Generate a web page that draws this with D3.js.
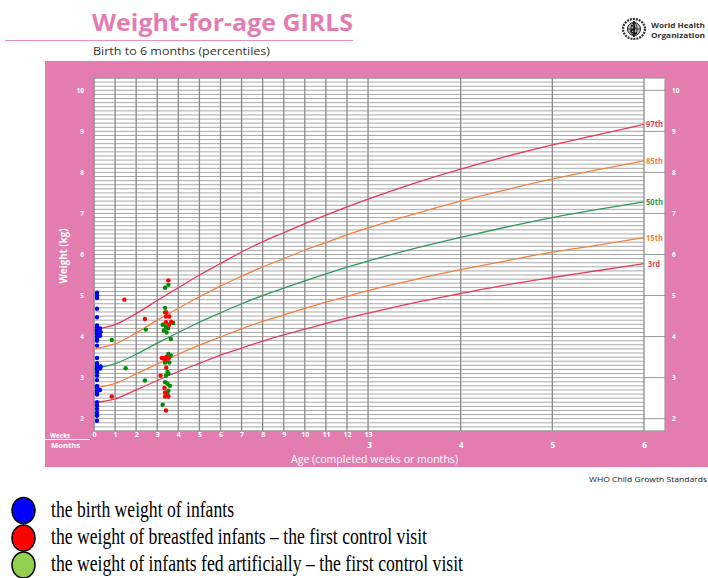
<!DOCTYPE html>
<html>
<head>
<meta charset="utf-8">
<script src="https://cdn.jsdelivr.net/npm/d3@7"></script>
<style>
  body { margin: 0; background: #fff; }
  svg { display: block; }
</style>
</head>
<body>
<div id="main"></div>
<script>

/// Data ///

// ages (days) of the reference curve points: weeks 0-13, then half months up to 6 months
const ageDays = [0, 7, 14, 21, 28, 35, 42, 49, 56, 63, 70, 77, 84, 91, 106.5, 121.75, 137, 152.2, 167.4, 182.6];

// percentile curves (kg)
const p97 = [4.17, 4.29, 4.56, 4.88, 5.19, 5.50, 5.78, 6.06, 6.31, 6.53, 6.75, 6.96, 7.16, 7.35, 7.74, 8.08, 8.39, 8.67, 8.92, 9.17];
const p85 = [3.70, 3.82, 4.09, 4.40, 4.69, 4.97, 5.23, 5.47, 5.70, 5.90, 6.11, 6.29, 6.48, 6.65, 6.99, 7.30, 7.58, 7.84, 8.07, 8.28];
const p50 = [3.22, 3.34, 3.57, 3.84, 4.10, 4.35, 4.58, 4.80, 5.00, 5.18, 5.36, 5.53, 5.69, 5.84, 6.15, 6.42, 6.67, 6.90, 7.10, 7.28];
const p15 = [2.75, 2.86, 3.09, 3.33, 3.57, 3.79, 3.99, 4.19, 4.37, 4.53, 4.69, 4.84, 4.98, 5.12, 5.39, 5.63, 5.85, 6.06, 6.23, 6.41];
const p3  = [2.39, 2.48, 2.70, 2.93, 3.15, 3.35, 3.55, 3.72, 3.89, 4.04, 4.18, 4.32, 4.45, 4.57, 4.83, 5.05, 5.26, 5.44, 5.61, 5.78];

const curveNames = ['97th', '85th', '50th', '15th', '3rd'];
const curveValues = [p97, p85, p50, p15, p3];

// birth weights (kg) and the day they were plotted at
const birthWeights = [5.07, 5.00, 4.94, 4.68, 4.47, 4.27, 4.23, 4.16, 4.13, 4.09, 4.05, 4.00, 3.94, 3.90, 3.78,
                      3.48, 3.35, 3.29, 3.24, 3.19, 3.13, 3.05, 2.94, 2.80, 2.76, 2.68, 2.63, 2.59,
                      2.40, 2.32, 2.24, 2.15, 2.07, 1.95, 4.20, 4.11, 4.02, 3.22, 3.27, 2.70];
const birthAges    = [1, 1, 1, 1, 1, 1, 1, 1, 1, 1, 1, 1, 1, 1, 1,
                      1, 1, 1, 1, 1, 1, 1, 1, 1, 1, 1, 1, 1,
                      1, 1, 1, 1, 1, 1, 2, 2.2, 2, 2, 2.2, 2];

// breastfed infants, first control visit [age in days, kg]
const breastfed = [[10.1, 4.90], [16.9, 4.43], [5.9, 2.54],
                   [24.7, 5.37], [24.0, 4.59], [23.9, 4.49], [25.0, 4.49], [23.9, 4.35], [25.0, 4.29], [25.6, 4.36],
                   [22.5, 3.48], [23.6, 3.48], [24.1, 3.51], [23.9, 3.43], [24.8, 3.47], [23.2, 3.46],
                   [24.0, 3.24], [22.1, 3.05], [23.4, 2.75], [23.6, 2.64], [23.6, 2.54], [24.7, 2.54], [23.9, 2.20]];

// infants fed artificially, first control visit [age in days, kg]
const formulaFed = [[17.2, 4.17], [5.9, 3.92], [10.5, 3.23], [16.9, 2.93],
                    [24.7, 5.26], [23.6, 5.19], [23.6, 4.70], [23.6, 4.59], [26.3, 4.33], [22.8, 4.29], [23.9, 4.24],
                    [24.6, 4.20], [23.2, 4.15], [24.1, 4.10], [25.5, 3.94],
                    [24.7, 3.58], [25.5, 3.54], [25.0, 3.37], [23.6, 3.37], [24.7, 3.10], [23.9, 3.05], [24.4, 3.14],
                    [23.6, 2.89], [24.4, 2.85], [25.2, 2.80], [24.7, 2.68], [24.4, 2.59], [22.8, 2.34]];

// tick labels
const weekLabels = [0, 1, 2, 3, 4, 5, 6, 7, 8, 9, 10, 11, 12, 13];
const monthLabels = [3, 4, 5, 6];
const weightTicks = [2, 3, 4, 5, 6, 7, 8, 9, 10];

const legendLabels = ['the birth weight of infants',
                      'the weight of breastfed infants \u2013 the first control visit',
                      'the weight of infants fed artificially \u2013 the first control visit'];

/// Layout ///

const w = 708;
const h = 578;
const DAYS_WEEK = 7;
const DAYS_MONTH = 30.4375;

const pink = '#e47daf';
const sans = '"Open Sans", "DejaVu Sans", sans-serif';

const svg = d3.select('#main')
            .append('svg')
            .attr('width', w)
            .attr('height', h);

const x = d3.scaleLinear()
            .domain([0, 6 * DAYS_MONTH])
            .range([94, 644]);

const y = d3.scaleLinear()
            .domain([1.7, 10.3])
            .range([431, 78]);

const plotRight = 665;   // white label column runs past 6 months

/// Header ///

svg.append('text')
    .attr('x', 92).attr('y', 31)
    .attr('font-family', sans).attr('font-weight', 'bold').attr('font-size', 23)
    .attr('textLength', 261).attr('lengthAdjust', 'spacingAndGlyphs')
    .attr('fill', pink)
    .text('Weight-for-age GIRLS');

svg.append('line')
    .attr('x1', 5).attr('x2', 353).attr('y1', 40.5).attr('y2', 40.5)
    .attr('stroke', '#e98fbb').attr('stroke-width', 1.2);

svg.append('text')
    .attr('x', 93).attr('y', 54.5)
    .attr('font-family', sans).attr('font-size', 11)
    .attr('textLength', 177).attr('lengthAdjust', 'spacingAndGlyphs')
    .attr('fill', '#333')
    .text('Birth to 6 months (percentiles)');

// WHO emblem (rough)
const logo = svg.append('g').attr('transform', 'translate(634,29)');
logo.append('ellipse').attr('rx', 11).attr('ry', 10).attr('fill', '#fff').attr('stroke', '#333').attr('stroke-width', 2.2).attr('stroke-dasharray', '2 1');
logo.append('circle').attr('r', 6.5).attr('fill', '#bbb').attr('stroke', '#222').attr('stroke-width', 1);
logo.append('ellipse').attr('rx', 3).attr('ry', 6.5).attr('fill', 'none').attr('stroke', '#222').attr('stroke-width', 0.8);
logo.append('line').attr('x1', -6.5).attr('x2', 6.5).attr('stroke', '#222').attr('stroke-width', 0.8);
logo.append('line').attr('y1', -8).attr('y2', 8).attr('stroke', '#111').attr('stroke-width', 1.6);
logo.append('path').attr('d', 'M-3,-3 C2,-4 2,0 -2,1 C-5,2 -2,5 3,4').attr('fill', 'none').attr('stroke', '#111').attr('stroke-width', 1.4);

svg.append('g')
    .selectAll('text')
    .data(['World Health', 'Organization'])
    .enter()
    .append('text')
    .attr('x', 651)
    .attr('y', (d, i) => 28 + i * 9.5)
    .attr('font-family', sans).attr('font-weight', 'bold').attr('font-size', 7).attr('fill', '#333')
    .attr('textLength', 54).attr('lengthAdjust', 'spacingAndGlyphs')
    .text(d => d);

/// Pink frame and plot area ///

svg.append('rect')
    .attr('x', 45).attr('y', 61)
    .attr('width', w - 45).attr('height', 406)
    .attr('fill', pink);

svg.append('rect')
    .attr('x', x(0)).attr('y', y.range()[1])
    .attr('width', plotRight - x(0)).attr('height', y.range()[0] - y.range()[1])
    .attr('fill', '#fff');

const grid = svg.append('g').attr('id', 'grid');

// 0.1 kg lines across the chart
grid.selectAll('line.minor')
    .data(d3.range(17, 104).map(d => d / 10))
    .enter()
    .append('line')
    .attr('class', 'minor')
    .attr('x1', x(0)).attr('x2', x(6 * DAYS_MONTH))
    .attr('y1', d => y(d)).attr('y2', d => y(d))
    .attr('stroke', '#a9a9a9').attr('stroke-width', 1);

// whole kg lines in the label column
grid.selectAll('line.kg')
    .data(weightTicks)
    .enter()
    .append('line')
    .attr('class', 'kg')
    .attr('x1', x(6 * DAYS_MONTH)).attr('x2', plotRight)
    .attr('y1', d => y(d)).attr('y2', d => y(d))
    .attr('stroke', '#999').attr('stroke-width', 1);

// vertical lines: every week up to 13, then every month
const verticals = weekLabels.map(d => d * DAYS_WEEK).concat(monthLabels.slice(1).map(d => d * DAYS_MONTH));
grid.selectAll('line.vert')
    .data(verticals)
    .enter()
    .append('line')
    .attr('class', 'vert')
    .attr('x1', d => x(d)).attr('x2', d => x(d))
    .attr('y1', y.range()[1]).attr('y2', y.range()[0])
    .attr('stroke', '#8a8a8a').attr('stroke-width', 1.3);

svg.append('rect')
    .attr('x', x(0)).attr('y', y.range()[1])
    .attr('width', plotRight - x(0)).attr('height', y.range()[0] - y.range()[1])
    .attr('fill', 'none').attr('stroke', '#999').attr('stroke-width', 1.2);

/// Percentile curves ///

const curveColors = ['#e63a5c', '#f4813f', '#2f9a5c', '#f4813f', '#e63a5c'];

const line = d3.line()
                .x((d, i) => x(ageDays[i]))
                .y(d => y(d))
                .curve(d3.curveMonotoneX);

svg.append('g')
    .selectAll('path')
    .data(curveValues)
    .enter()
    .append('path')
    .attr('d', line)
    .attr('fill', 'none')
    .attr('stroke', (d, i) => curveColors[i])
    .attr('stroke-width', 1.3);

svg.append('g')
    .selectAll('text')
    .data(curveValues)
    .enter()
    .append('text')
    .attr('x', (d, i) => i === 4 ? 648 : 646)
    .attr('y', d => y(d[d.length - 1]))
    .attr('dy', '0.35em')
    .attr('font-family', sans).attr('font-weight', 'bold').attr('font-size', 8.5)
    .attr('textLength', (d, i) => i === 4 ? 12 : 17).attr('lengthAdjust', 'spacingAndGlyphs')
    .attr('fill', (d, i) => curveColors[i])
    .text((d, i) => curveNames[i]);

/// Infant points ///

const dots = svg.append('g');

dots.selectAll('circle.birth')
    .data(birthWeights)
    .enter()
    .append('circle')
    .attr('class', 'birth')
    .attr('cx', (d, i) => x(birthAges[i]))
    .attr('cy', d => y(d))
    .attr('r', 2.2)
    .attr('fill', '#0000ff');

dots.selectAll('circle.formula')
    .data(formulaFed)
    .enter()
    .append('circle')
    .attr('class', 'formula')
    .attr('cx', d => x(d[0]))
    .attr('cy', d => y(d[1]))
    .attr('r', 2.2)
    .attr('fill', '#008a00');

dots.selectAll('circle.breast')
    .data(breastfed)
    .enter()
    .append('circle')
    .attr('class', 'breast')
    .attr('cx', d => x(d[0]))
    .attr('cy', d => y(d[1]))
    .attr('r', 2.2)
    .attr('fill', '#ff0000');

/// Axes (white labels on pink) ///

function styleAxis(g, size) {
    g.select('.domain').remove();
    g.selectAll('text')
        .attr('fill', '#fff')
        .attr('font-family', sans)
        .attr('font-weight', 'bold')
        .attr('font-size', size);
}

svg.append('g')
    .attr('transform', `translate(${x(0)},0)`)
    .call(d3.axisLeft(y).tickValues(weightTicks).tickSize(0).tickPadding(10))
    .call(g => styleAxis(g, 6.5));

svg.append('g')
    .attr('transform', `translate(${plotRight},0)`)
    .call(d3.axisRight(y).tickValues(weightTicks).tickSize(0).tickPadding(7))
    .call(g => styleAxis(g, 6.5));

svg.append('g')
    .attr('transform', `translate(0,${y.range()[0]})`)
    .call(d3.axisBottom(x).tickValues(weekLabels.map(d => d * DAYS_WEEK)).tickFormat((d, i) => weekLabels[i]).tickSize(0).tickPadding(1.5))
    .call(g => styleAxis(g, 7));

svg.append('g')
    .attr('transform', `translate(0,${y.range()[0]})`)
    .call(d3.axisBottom(x).tickValues(monthLabels.map(d => d * DAYS_MONTH)).tickFormat((d, i) => monthLabels[i]).tickSize(0).tickPadding(11))
    .call(g => styleAxis(g, 8));

svg.append('text')
    .attr('x', 50).attr('y', 437.5)
    .attr('font-family', sans).attr('font-weight', 'bold').attr('font-size', 7)
    .attr('textLength', 20).attr('lengthAdjust', 'spacingAndGlyphs')
    .attr('fill', '#fff')
    .text('Weeks');

svg.append('line')
    .attr('x1', 45).attr('x2', 90).attr('y1', 439.5).attr('y2', 439.5)
    .attr('stroke', '#fff').attr('stroke-width', 1);

svg.append('text')
    .attr('x', 51).attr('y', 448)
    .attr('font-family', sans).attr('font-weight', 'bold').attr('font-size', 7)
    .attr('textLength', 29).attr('lengthAdjust', 'spacingAndGlyphs')
    .attr('fill', '#fff')
    .text('Months');

svg.append('text')
    .attr('x', 291).attr('y', 462.5)
    .attr('font-family', sans).attr('font-size', 11)
    .attr('textLength', 167).attr('lengthAdjust', 'spacingAndGlyphs')
    .attr('fill', '#fff')
    .text('Age (completed weeks or months)');

svg.append('text')
    .attr('transform', 'translate(67,256) rotate(-90)')
    .attr('text-anchor', 'middle')
    .attr('font-family', sans).attr('font-weight', 'bold').attr('font-size', 10)
    .attr('textLength', 55).attr('lengthAdjust', 'spacingAndGlyphs')
    .attr('fill', '#fff')
    .text('Weight (kg)');

svg.append('text')
    .attr('x', 707).attr('y', 482)
    .attr('text-anchor', 'end')
    .attr('font-family', sans).attr('font-size', 7.5)
    .attr('textLength', 118).attr('lengthAdjust', 'spacingAndGlyphs')
    .attr('fill', '#222')
    .text('WHO Child Growth Standards');

/// Legend ///

const legendFill = ['#0000ff', '#ff0000', '#92d050'];
const legendY = [510.5, 538, 565];
const legendWidth = [183, 376, 412];

const legend = svg.append('g').attr('id', 'legend');

legend.selectAll('ellipse')
    .data(legendLabels)
    .enter()
    .append('ellipse')
    .attr('cx', 23.5)
    .attr('cy', (d, i) => legendY[i])
    .attr('rx', 11.5).attr('ry', 13)
    .attr('fill', (d, i) => legendFill[i])
    .attr('stroke', '#000').attr('stroke-width', 1.5);

legend.selectAll('text')
    .data(legendLabels)
    .enter()
    .append('text')
    .attr('x', 51)
    .attr('y', (d, i) => legendY[i] + 6)
    .attr('font-family', '"Liberation Serif", "Times New Roman", serif')
    .attr('font-size', 23)
    .attr('textLength', (d, i) => legendWidth[i]).attr('lengthAdjust', 'spacingAndGlyphs')
    .attr('fill', '#000')
    .text(d => d);

</script>
</body>
</html>
